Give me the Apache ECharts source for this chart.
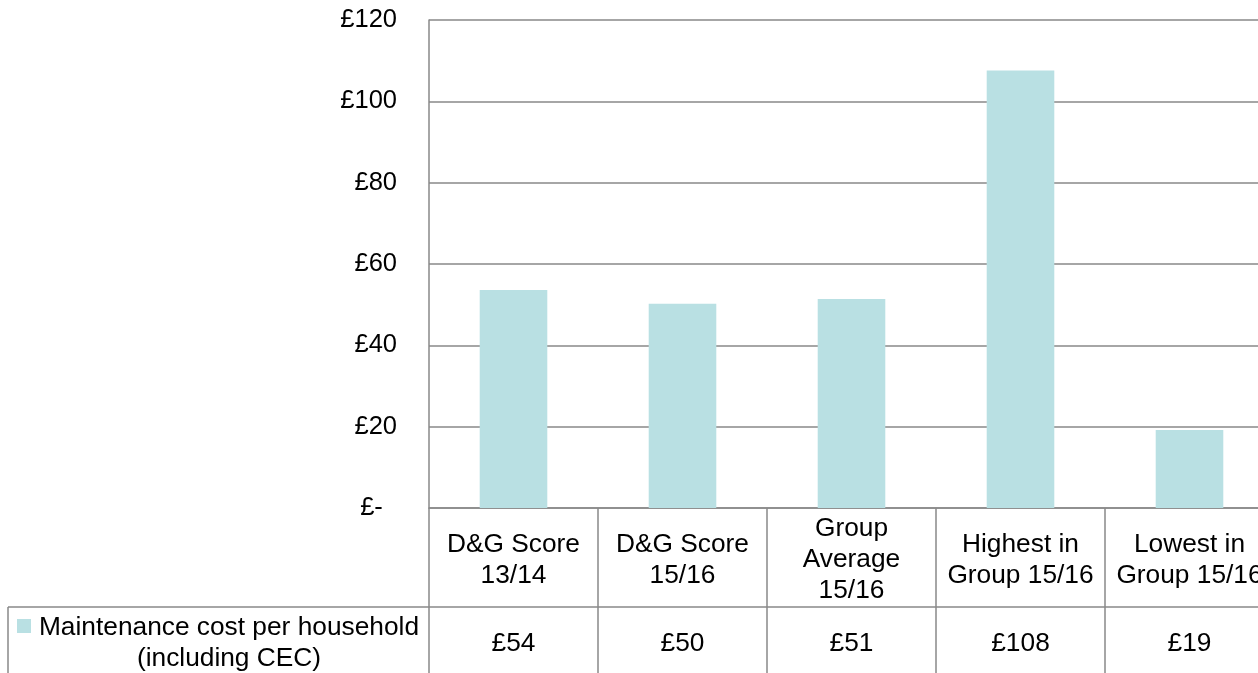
<!DOCTYPE html>
<html>
<head>
<meta charset="utf-8">
<script src="https://cdn.jsdelivr.net/npm/echarts@6/dist/echarts.min.js"></script>
<style>
  html, body { margin: 0; padding: 0; background: #fff; overflow: hidden; }
  /* chart is wider than the window: the original is cropped on the right */
  #chart { width: 1300px; height: 673px; }
</style>
</head>
<body>
<div id="chart"></div>
<script>
// data
var categories = ["D&G Score\n13/14", "D&G Score\n15/16", "Group\nAverage\n15/16", "Highest in\nGroup 15/16", "Lowest in\nGroup 15/16"];
var values = [53.6, 50.2, 51.4, 107.6, 19.2];
var seriesName = "Maintenance cost per household\n(including CEC)";
var yTicks = { min: 0, max: 120, step: 20 };

var font = "'Liberation Sans', Arial, sans-serif";
var fs = 26.3;
var gridColor = "#898989";
var barColor = "#b9e0e3";

var myChart = echarts.init(document.getElementById("chart"));
myChart.setOption({
  animation: false,
  textStyle: { fontFamily: font },
  grid: { left: 429, top: 20, width: 845, height: 488 },
  xAxis: [
    {
      type: "category",
      data: categories,
      position: "bottom",
      axisLine: { show: true, lineStyle: { color: gridColor, width: 1.5 } },
      axisTick: { show: true, interval: 0, length: 200, lineStyle: { color: gridColor, width: 1.5 } },
      axisLabel: {
        interval: 0, margin: 52, verticalAlign: "middle",
        color: "#000", fontSize: fs, lineHeight: 31, fontFamily: font
      }
    },
    {
      // values row of the data table
      type: "category",
      data: categories,
      position: "bottom",
      offset: 0,
      axisLine: { show: false },
      axisTick: { show: false },
      axisLabel: {
        interval: 0, margin: 136, verticalAlign: "middle",
        color: "#000", fontSize: fs, fontFamily: font,
        formatter: function (v, i) { return "£" + Math.round(values[i]); }
      }
    }
  ],
  yAxis: {
    type: "value",
    min: yTicks.min,
    max: yTicks.max,
    interval: yTicks.step,
    axisLine: { show: true, lineStyle: { color: gridColor, width: 1.5 } },
    axisTick: { show: false },
    splitLine: { lineStyle: { color: gridColor, width: 1.5 } },
    axisLabel: {
      margin: 32, color: "#000", fontSize: 25.5, fontFamily: font,
      formatter: function (v) { return v === 0 ? "£-  " : "£" + v; }
    }
  },
  series: [
    {
      name: seriesName,
      type: "bar",
      xAxisIndex: 0,
      data: values,
      barWidth: "40%",
      itemStyle: { color: barColor }
    }
  ],
  graphic: [
    // table row border and legend cell
    { type: "line", shape: { x1: 8, y1: 607, x2: 1300, y2: 607 }, style: { stroke: gridColor, lineWidth: 1.5 } },
    { type: "line", shape: { x1: 8, y1: 607, x2: 8, y2: 673 }, style: { stroke: gridColor, lineWidth: 1.5 } },
    { type: "rect", shape: { x: 17, y: 619, width: 14, height: 14 }, style: { fill: barColor } },
    {
      type: "text", x: 229, y: 643,
      style: {
        text: seriesName, fill: "#000", font: fs + "px " + font,
        textAlign: "center", textVerticalAlign: "middle", lineHeight: 31
      }
    }
  ]
});
</script>
</body>
</html>
